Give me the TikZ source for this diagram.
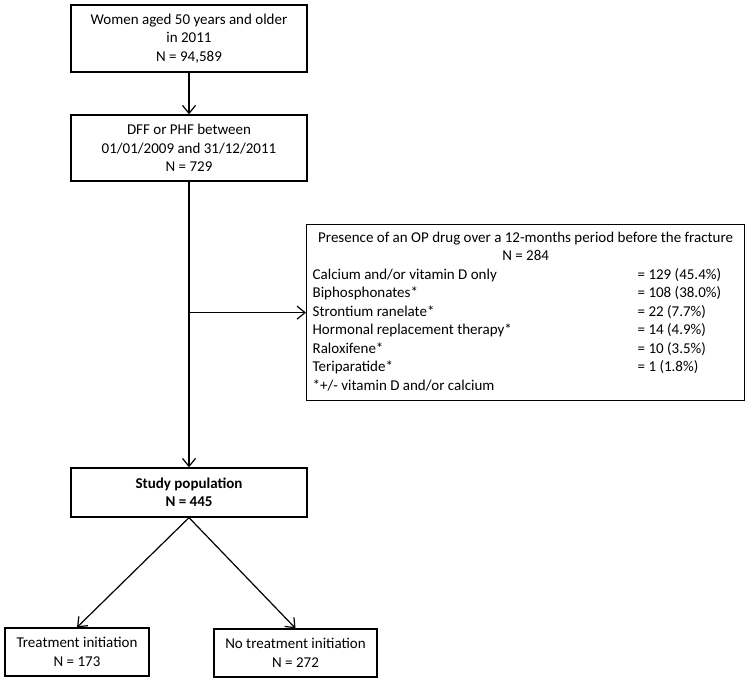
\documentclass[tikz,border=0pt]{standalone}
\usepackage{fontspec}
\setmainfont{Carlito}
\usepackage{array}
\usetikzlibrary{arrows.meta}

\begin{document}
\begin{tikzpicture}[x=1pt,y=-1pt,
    box/.style={draw,line width=1.3pt,align=center,inner sep=0pt,
      font=\fontsize{15}{18.5}\selectfont},
    link/.style={line width=1.2pt,-{Straight Barb[length=8pt,width=13pt]}}]
    % Frame
    \useasboundingbox (0,0) rectangle (750,684);

    % Main column
    \node[box,minimum width=236pt,minimum height=67pt] (women) at (189,38.5)
      {Women aged 50 years and older\\in 2011\\N = 94,589};
    \node[box,minimum width=236pt,minimum height=66pt] (fract) at (189,148)
      {DFF or PHF between\\01/01/2009 and 31/12/2011\\N = 729};
    \node[box,minimum width=236pt,minimum height=49pt,font=\fontsize{15}{18.5}\selectfont\bfseries] (study) at (189,492.5)
      {Study population\\N = 445};

    % Exclusion box
    \node[box,minimum width=438pt,minimum height=176pt,anchor=north west] (drug) at (306,224)
      {\begin{tabular}{@{\hspace{6pt}}>{\raggedright\arraybackslash}p{313pt}>{\raggedright\arraybackslash}p{107pt}@{}}
        \multicolumn{2}{@{}c@{}}{Presence of an OP drug over a 12-months period before the fracture}\\
        \multicolumn{2}{@{}c@{}}{N = 284}\\
        Calcium and/or vitamin D only & = 129 (45.4\%)\\
        Biphosphonates* & = 108 (38.0\%)\\
        Strontium ranelate* & = 22 (7.7\%)\\
        Hormonal replacement therapy* & = 14 (4.9\%)\\
        Raloxifene* & = 10 (3.5\%)\\
        Teriparatide* & = 1 (1.8\%)\\
        {}*+/- vitamin D and/or calcium & \\
      \end{tabular}};

    % Outcome boxes
    \node[box,minimum width=144pt,minimum height=48pt] (treat) at (77,652)
      {Treatment initiation\\N = 173};
    \node[box,minimum width=163pt,minimum height=48pt] (notreat) at (295.5,653)
      {No treatment initiation\\N = 272};

    % Connectors
    \coordinate (branch) at (fract.south |- drug.west);
    \draw[link] (women) -- (fract);
    \draw[link] (fract) -- (study);
    \draw[link] (branch) -- (drug.west);
    \draw[link] (study.south) -- (treat.north);
    \draw[link] (study.south) -- (notreat.north);
\end{tikzpicture}
\end{document}
